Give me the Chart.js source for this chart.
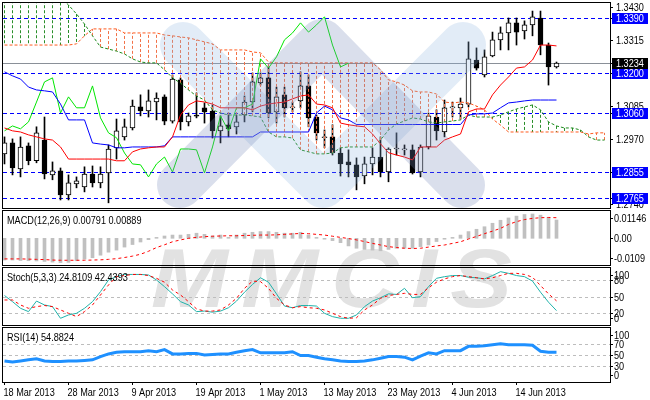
<!DOCTYPE html>
<html>
<head>
<meta charset="utf-8">
<title>EURUSD Daily - Ichimoku, MACD, Stoch, RSI</title>
<script src="https://cdn.jsdelivr.net/npm/chart.js@4.4.1/dist/chart.umd.min.js"></script>
<style>
  html, body { margin: 0; padding: 0; background: #fff; }
  #wrap { position: relative; width: 650px; height: 400px; overflow: hidden; }
  #wrap canvas { position: absolute; left: 0; z-index: 1; }
  #mark {
    position: absolute; left: 151px; top: 236px; z-index: 0;
    font: italic bold 84px/84px "Liberation Sans", Arial, sans-serif;
    letter-spacing: 12px; color: #e2e2e2; white-space: nowrap;
    transform: scaleX(1.1); transform-origin: 0 0;
  }
</style>
</head>
<body>
<div id="wrap">
  <div id="mark">MMCIS</div>
  <canvas id="mainChart" width="650" height="210" style="top:0"></canvas>
  <canvas id="macdChart" width="650" height="57" style="top:210px"></canvas>
  <canvas id="stochChart" width="650" height="60" style="top:267px"></canvas>
  <canvas id="rsiChart" width="650" height="73" style="top:327px"></canvas>
</div>
<script>
// Daily candles, 18 Mar 2013 .. 21 Jun 2013 (one entry per bar)
const opens = [
  1.2919, 1.2957, 1.2867, 1.2947, 1.2895, 1.2967, 1.2846, 1.2860, 1.2776, 1.2815,
  1.2804, 1.2849, 1.2818, 1.2853, 1.2940, 1.2978, 1.3009, 1.3082, 1.3068, 1.3099,
  1.3117, 1.3033, 1.3176, 1.3030, 1.3051, 1.3079, 1.3068, 1.2999, 1.3020, 1.3013,
  1.3054, 1.3099, 1.3165, 1.3183, 1.3065, 1.3124, 1.3079, 1.3103, 1.3155, 1.3047,
  1.2975, 1.2978, 1.2922, 1.2891, 1.2881, 1.2842, 1.2884, 1.2908, 1.2856, 1.2936,
  1.2933, 1.2933, 1.2856, 1.2943, 1.3047, 1.2995, 1.3079, 1.3079, 1.3092, 1.3245,
  1.3193, 1.3259, 1.3315, 1.3339, 1.3374, 1.3346, 1.3367, 1.3391, 1.3297, 1.3221
];
const highs = [
  1.2978, 1.2971, 1.2978, 1.2957, 1.3013, 1.3047, 1.2891, 1.2870, 1.2846, 1.2839,
  1.2874, 1.2877, 1.2874, 1.2950, 1.3040, 1.3040, 1.3106, 1.3124, 1.3141, 1.3131,
  1.3124, 1.3193, 1.3183, 1.3061, 1.3131, 1.3096, 1.3089, 1.3051, 1.3061, 1.3054,
  1.3120, 1.3200, 1.3200, 1.3221, 1.3151, 1.3151, 1.3099, 1.3204, 1.3193, 1.3054,
  1.3002, 1.3020, 1.2940, 1.2933, 1.2905, 1.2908, 1.2940, 1.2978, 1.2940, 1.2992,
  1.2950, 1.2950, 1.2950, 1.3061, 1.3072, 1.3106, 1.3099, 1.3113, 1.3308, 1.3287,
  1.3280, 1.3342, 1.3360, 1.3391, 1.3391, 1.3381, 1.3415, 1.3415, 1.3304, 1.3238
];
const lows = [
  1.2884, 1.2846, 1.2839, 1.2881, 1.2888, 1.2832, 1.2829, 1.2759, 1.2759, 1.2801,
  1.2787, 1.2804, 1.2801, 1.2749, 1.2901, 1.2967, 1.3002, 1.3051, 1.3047, 1.3037,
  1.3020, 1.3026, 1.3002, 1.3016, 1.3044, 1.3026, 1.2974, 1.2957, 1.2978, 1.2988,
  1.3030, 1.3065, 1.3158, 1.3044, 1.3026, 1.3047, 1.3065, 1.3079, 1.3013, 1.2967,
  1.2940, 1.2915, 1.2842, 1.2839, 1.2794, 1.2815, 1.2846, 1.2839, 1.2822, 1.2915,
  1.2915, 1.2849, 1.2839, 1.2936, 1.2967, 1.2978, 1.3047, 1.3040, 1.3082, 1.3210,
  1.3186, 1.3256, 1.3280, 1.3280, 1.3297, 1.3318, 1.3329, 1.3263, 1.3158, 1.3217
];
const closes = [
  1.2957, 1.2870, 1.2943, 1.2895, 1.2992, 1.2849, 1.2860, 1.2776, 1.2818, 1.2825,
  1.2849, 1.2818, 1.2849, 1.2936, 1.2999, 1.3013, 1.3085, 1.3068, 1.3103, 1.3113,
  1.3033, 1.3179, 1.3030, 1.3051, 1.3050, 1.3065, 1.2999, 1.3016, 1.3006, 1.3030,
  1.3099, 1.3169, 1.3183, 1.3061, 1.3117, 1.3079, 1.3079, 1.3155, 1.3044, 1.2992,
  1.2975, 1.2922, 1.2884, 1.2881, 1.2839, 1.2884, 1.2908, 1.2856, 1.2936, 1.2936,
  1.2933, 1.2853, 1.2943, 1.3051, 1.2999, 1.3079, 1.3079, 1.3092, 1.3249, 1.3217,
  1.3256, 1.3315, 1.3339, 1.3374, 1.3342, 1.3367, 1.3395, 1.3297, 1.3221, 1.3234
];

// Ichimoku lines
const tenkan = [
  1.3009, 1.2999, 1.2995, 1.2985, 1.2978, 1.2971, 1.2967, 1.2943, 1.2901, 1.2901,
  1.2901, 1.2901, 1.2901, 1.2901, 1.2895, 1.2895, 1.2926, 1.2936, 1.2940, 1.2943,
  1.2943, 1.2978, 1.3054, 1.3089, 1.3103, 1.3099, 1.3092, 1.3079, 1.3079, 1.3079,
  1.3079, 1.3072, 1.3085, 1.3092, 1.3096, 1.3099, 1.3110, 1.3120, 1.3124, 1.3092,
  1.3089, 1.3079, 1.3026, 1.3020, 1.3016, 1.3013, 1.2988, 1.2954, 1.2923, 1.2915,
  1.2908, 1.2898, 1.2943, 1.2943, 1.2943, 1.2967, 1.2978, 1.2988, 1.3065, 1.3075,
  1.3075, 1.3124, 1.3158, 1.3186, 1.3217, 1.3221, 1.3245, 1.3297, 1.3297, 1.3294
];
const kijun = [
  1.3204, 1.3190, 1.3179, 1.3151, 1.3141, 1.3138, 1.3134, 1.3092, 1.3037, 1.3037,
  1.3037, 1.2957, 1.2953, 1.2950, 1.2940, 1.2940, 1.2943, 1.2943, 1.2943, 1.2943,
  1.2947, 1.2978, 1.2978, 1.2978, 1.2978, 1.2978, 1.2978, 1.2978, 1.2978, 1.2978,
  1.2978, 1.2978, 1.2995, 1.2995, 1.2995, 1.2995, 1.2995, 1.2995, 1.2995, 1.3061,
  1.3085, 1.3072, 1.3044, 1.3037, 1.3021, 1.3021, 1.3021, 1.3021, 1.3021, 1.3021,
  1.3021, 1.3021, 1.3021, 1.3021, 1.3021, 1.3021, 1.3021, 1.3021, 1.3054, 1.3058,
  1.3058, 1.3061, 1.3079, 1.3096, 1.3099, 1.3103, 1.3106, 1.3106, 1.3106, 1.3106
];
// cloud spans run 6 bars past the last candle
const senkouA = [
  1.3470, 1.3470, 1.3470, 1.3470, 1.3470, 1.3470, 1.3470, 1.3462, 1.3436, 1.3405,
  1.3370, 1.3329, 1.3290, 1.3283, 1.3276, 1.3266, 1.3249, 1.3238, 1.3235, 1.3235,
  1.3211, 1.3183, 1.3165, 1.3141, 1.3120, 1.3106, 1.3072, 1.3061, 1.3054, 1.3054,
  1.3054, 1.3051, 1.3047, 1.2995, 1.2978, 1.2978, 1.2974, 1.2933, 1.2926, 1.2919,
  1.2919, 1.2922, 1.2940, 1.2943, 1.2943, 1.2943, 1.2943, 1.2967, 1.3002, 1.3023,
  1.3033, 1.3044, 1.3040, 1.3030, 1.3026, 1.3030, 1.3033, 1.3037, 1.3054, 1.3047,
  1.3047, 1.3047, 1.3054, 1.3065, 1.3075, 1.3082, 1.3089, 1.3072, 1.3030, 1.3016,
  1.3009, 1.3009, 1.3002, 1.2978, 1.2967, 1.2967
];
const senkouB = [
  1.3297, 1.3297, 1.3297, 1.3297, 1.3297, 1.3297, 1.3297, 1.3297, 1.3297, 1.3301,
  1.3329, 1.3353, 1.3353, 1.3353, 1.3353, 1.3339, 1.3339, 1.3339, 1.3339, 1.3339,
  1.3332, 1.3329, 1.3325, 1.3322, 1.3315, 1.3308, 1.3301, 1.3280, 1.3280, 1.3280,
  1.3280, 1.3273, 1.3270, 1.3238, 1.3235, 1.3235, 1.3235, 1.3235, 1.3235, 1.3235,
  1.3235, 1.3235, 1.3235, 1.3235, 1.3235, 1.3235, 1.3235, 1.3211, 1.3176, 1.3169,
  1.3158, 1.3138, 1.3134, 1.3134, 1.3127, 1.3099, 1.3096, 1.3099, 1.3096, 1.3085,
  1.3072, 1.3040, 1.3019, 1.2995, 1.2995, 1.2995, 1.2995, 1.2995, 1.2995, 1.2995,
  1.2995, 1.2995, 1.2995, 1.2988, 1.2992, 1.2992
];

// MACD(12,26,9)
const macdHist = [
  -0.0094, -0.0094, -0.0096, -0.0097, -0.0098, -0.0100, -0.0103, -0.0105, -0.0104, -0.0097,
  -0.0090, -0.0084, -0.0073, -0.0060, -0.0051, -0.0038, -0.0027, -0.0016, -0.0006, 0.0004,
  0.0010, 0.0014, 0.0014, 0.0017, 0.0022, 0.0017, 0.0010, 0.0014, 0.0004, 0.0014,
  0.0022, 0.0026, 0.0029, 0.0029, 0.0026, 0.0022, 0.0022, 0.0026, 0.0014, 0.0004,
  -0.0004, -0.0010, -0.0019, -0.0033, -0.0043, -0.0048, -0.0051, -0.0054, -0.0048, -0.0043,
  -0.0043, -0.0043, -0.0036, -0.0029, -0.0014, -0.0004, 0.0004, 0.0014, 0.0029, 0.0039,
  0.0050, 0.0065, 0.0078, 0.0088, 0.0096, 0.0103, 0.0105, 0.0100, 0.0091, 0.0079
];
const macdSignal = [
  -0.0089, -0.0089, -0.0089, -0.0090, -0.0091, -0.0092, -0.0094, -0.0095, -0.0095, -0.0095,
  -0.0095, -0.0094, -0.0093, -0.0091, -0.0088, -0.0083, -0.0077, -0.0069, -0.0056, -0.0040,
  -0.0028, -0.0015, -0.0007, 0.0000, 0.0004, 0.0007, 0.0009, 0.0010, 0.0011, 0.0011,
  0.0012, 0.0013, 0.0014, 0.0014, 0.0015, 0.0017, 0.0019, 0.0021, 0.0020, 0.0017,
  0.0014, 0.0009, 0.0004, -0.0001, -0.0007, -0.0014, -0.0022, -0.0029, -0.0036, -0.0040,
  -0.0043, -0.0044, -0.0043, -0.0038, -0.0033, -0.0029, -0.0022, -0.0015, -0.0003, 0.0008,
  0.0020, 0.0031, 0.0043, 0.0060, 0.0072, 0.0081, 0.0086, 0.0089, 0.0090, 0.0089
];

// Stochastic(5,3,3)
const stochMain = [
  52, 41, 29, 23, 42, 35, 32, 11, 17, 20,
  29, 41, 59, 80, 86, 90, 90, 90, 89, 80,
  68, 55, 41, 35, 23, 24, 22, 24, 30, 42,
  58, 72, 84, 76, 55, 33, 30, 34, 34, 33,
  20, 14, 11, 11, 17, 32, 42, 48, 55, 54,
  65, 48, 50, 68, 83, 86, 88, 88, 85, 84,
  82, 88, 95, 92, 88, 86, 78, 58, 40, 24.8
];
const stochSignal = [
  44, 44, 35, 29, 32, 34, 32, 26, 20, 14,
  23, 35, 53, 71, 86, 88, 90, 90, 88, 83,
  76, 62, 53, 41, 28, 24, 24, 26, 35, 47,
  65, 78, 77, 65, 47, 35, 30, 32, 30, 29,
  26, 20, 14, 11, 12, 26, 35, 47, 52, 54,
  56, 54, 54, 66, 76, 82, 86, 88, 86, 84,
  82, 84, 88, 92, 92, 90, 85, 70, 55, 42.4
];

// RSI(14)
const rsi = [
  39, 37, 39, 41, 43, 39, 38, 38, 39, 39,
  40, 41, 47, 52, 55, 56, 56, 56, 58, 56,
  60, 52, 52, 53, 53, 50, 51, 52, 52, 55,
  58, 60, 54, 54, 54, 54, 56, 49, 49, 46,
  43, 41, 39, 38, 38, 39, 41, 44, 47, 47,
  46, 41, 48, 54, 52, 58, 58, 58, 66, 66,
  67, 69, 71, 69, 69, 69, 68, 57, 55, 54.9
];

// axes / levels
const priceLevels = [1.3390, 1.3200, 1.3060, 1.2855, 1.2765];
const priceTicks = [1.3430, 1.3315, 1.3085, 1.2970, 1.2740];
const macdTicks = [0.01146, 0, -0.0109];
const macdTickLabels = ['0.01146', '0.00', '-0.0109'];
const stochTicks = [100, 80, 50, 20, 0];
const stochLevels = [80, 50, 20];
const rsiTicks = [100, 70, 50, 30, 0];
const rsiLevels = [70, 50, 30];
const dateBars = [0, 8, 16, 24, 32, 40, 48, 56, 64];
const dateLabels = ['18 Mar 2013', '28 Mar 2013', '9 Apr 2013', '19 Apr 2013', '1 May 2013',
  '13 May 2013', '23 May 2013', '4 Jun 2013', '14 Jun 2013'];

const fontFamily = '"Liberation Sans", Arial, sans-serif';
const labelFont = '11px ' + fontFamily;
const textSqueeze = 0.83;   // terminal font is narrower than Liberation Sans
Chart.defaults.font.family = fontFamily;
Chart.defaults.font.size = 11;

const xMin = -0.1875, xMax = 75.6875;   // 8 px per bar
const pts = (arr) => arr.map((v, i) => ({ x: i, y: v }));
const lastClose = closes[closes.length - 1];

function narrowText(ctx, text, x, y) {
  ctx.save();
  ctx.translate(x, y);
  ctx.scale(textSqueeze, 1);
  ctx.fillText(text, 0, 0);
  ctx.restore();
}

// frame, level lines, panel title, right-hand labels and dates
const panelPlugin = {
  id: 'panel',
  beforeDatasetsDraw(chart, args, o) {
    const { ctx, chartArea: a, scales: { y } } = chart;
    ctx.save();
    ctx.lineWidth = 1;
    (o.levels || []).forEach(l => {
      const py = Math.round(y.getPixelForValue(l.value)) + 0.5;
      ctx.strokeStyle = l.color;
      ctx.setLineDash(l.dash);
      ctx.beginPath(); ctx.moveTo(a.left, py); ctx.lineTo(a.right, py); ctx.stroke();
    });
    ctx.restore();
  },
  afterDraw(chart, args, o) {
    const { ctx, chartArea: a, scales: { x, y } } = chart;
    ctx.save();
    ctx.strokeStyle = '#000'; ctx.lineWidth = 1; ctx.setLineDash([]);
    ctx.strokeRect(a.left - 0.5, a.top - 0.5, a.width + 1, a.height + 1);
    ctx.font = labelFont;
    ctx.textBaseline = 'middle';
    ctx.textAlign = 'left';
    ctx.fillStyle = '#000';
    if (o.title) narrowText(ctx, o.title, a.left + 4, a.top + 9.5);
    (o.labels || []).forEach(l => {
      let py = y.getPixelForValue(l.value);
      py = Math.round(Math.min(Math.max(py, a.top + o.inset), a.bottom - o.inset));
      ctx.beginPath(); ctx.moveTo(a.right, py + 0.5); ctx.lineTo(a.right + 3, py + 0.5); ctx.stroke();
      if (l.bg) {
        ctx.fillStyle = l.bg;
        ctx.fillRect(a.right + 2, py - 5, 36, 11);
      }
      ctx.fillStyle = l.bg ? '#fff' : '#000';
      narrowText(ctx, l.text, a.right + o.textX, py + 0.5);
    });
    if (o.dates) {
      ctx.fillStyle = '#000';
      dateBars.forEach((b, i) => narrowText(ctx, dateLabels[i], x.getPixelForValue(b) - 1, a.bottom + 10.5));
    }
    ctx.restore();
  }
};

// kumo hatching: dashed verticals between the spans, drawn over the candles
const kumoPlugin = {
  id: 'kumo',
  afterDatasetDraw(chart, args) {
    if (chart.data.datasets[args.index].label !== 'bodies') return;
    const { ctx, chartArea: a, scales: { x, y } } = chart;
    ctx.save();
    ctx.beginPath(); ctx.rect(a.left, a.top, a.width, a.height); ctx.clip();
    ctx.lineWidth = 1;
    ctx.setLineDash([3, 2]);
    senkouA.forEach((va, i) => {
      const vb = senkouB[i];
      const px = Math.round(x.getPixelForValue(i) - 0.5) + 0.5;
      ctx.strokeStyle = va > vb ? '#2a8f2a' : '#f27248';
      ctx.beginPath();
      ctx.moveTo(px, y.getPixelForValue(va));
      ctx.lineTo(px, y.getPixelForValue(vb));
      ctx.stroke();
    });
    ctx.restore();
  }
};

// broker logo watermark over the price panel
const logoPlugin = {
  id: 'logo',
  afterDatasetsDraw(chart) {
    const { ctx, chartArea: a } = chart;
    ctx.save();
    ctx.beginPath(); ctx.rect(a.left, a.top, a.width, a.height); ctx.clip();
    ctx.lineCap = 'round'; ctx.lineJoin = 'round'; ctx.lineWidth = 46;
    const stroke = (path, color) => {
      ctx.strokeStyle = color;
      ctx.beginPath();
      path.forEach(([px, py], k) => (k ? ctx.lineTo(px, py) : ctx.moveTo(px, py)));
      ctx.stroke();
    };
    stroke([[183, 45], [323, 185], [463, 45]], 'rgba(140,180,225,0.25)');
    stroke([[180, 185], [322, 42], [462, 185]], 'rgba(120,135,185,0.27)');
    ctx.restore();
  }
};

const baseOptions = (padding, yMin, yMax) => ({
  responsive: false,
  animation: false,
  events: [],
  layout: { padding },
  scales: {
    x: { type: 'linear', min: xMin, max: xMax, offset: false, display: false },
    y: { type: 'linear', min: yMin, max: yMax, display: false }
  },
  plugins: { legend: { display: false }, tooltip: { enabled: false } }
});

// ---- price panel
const mainOptions = baseOptions({ left: 3, top: 3, right: 40, bottom: 2 }, 1.2731, 1.3443);
mainOptions.plugins.panel = {
  levels: [
    ...priceLevels.map(v => ({ value: v, color: '#0000ff', dash: [4, 3] })),
    { value: lastClose, color: '#8a9098', dash: [] }
  ],
  labels: [
    ...priceTicks.map(v => ({ value: v, text: v.toFixed(4) })),
    ...priceLevels.map(v => ({ value: v, text: v.toFixed(4), bg: '#0000ff' })),
    { value: lastClose, text: lastClose.toFixed(4), bg: '#000' }
  ],
  inset: 4,
  textX: 6
};

new Chart(document.getElementById('mainChart'), {
  type: 'bar',
  data: {
    datasets: [
      { type: 'line', label: 'Tenkan-sen', data: pts(tenkan), borderColor: '#ff0000', borderWidth: 1, pointRadius: 0, order: 1 },
      { type: 'line', label: 'Kijun-sen', data: pts(kijun), borderColor: '#0000ff', borderWidth: 1, pointRadius: 0, order: 1 },
      { type: 'line', label: 'Chikou Span', data: closes.slice(26).map((v, i) => ({ x: i, y: v })), borderColor: '#00e600', borderWidth: 1, pointRadius: 0, order: 1 },
      { type: 'line', label: 'Senkou Span A', data: pts(senkouA), borderColor: '#1e8c1e', borderWidth: 1, borderDash: [3, 2], pointRadius: 0, order: 2 },
      { type: 'line', label: 'Senkou Span B', data: pts(senkouB), borderColor: '#ff5a1e', borderWidth: 1, borderDash: [3, 2], pointRadius: 0, order: 2 },
      {
        label: 'bodies',
        data: opens.map((o, i) => ({ x: i, y: [o, closes[i]] })),
        backgroundColor: opens.map((o, i) => (closes[i] >= o ? '#fff' : '#000')),
        borderColor: '#000', borderWidth: 1, borderSkipped: false,
        barThickness: 5, minBarLength: 1, grouped: false, order: 5
      },
      {
        label: 'wicks',
        data: lows.map((l, i) => ({ x: i, y: [l, highs[i]] })),
        backgroundColor: '#000', barThickness: 1, grouped: false, order: 6
      }
    ]
  },
  options: mainOptions,
  plugins: [panelPlugin, kumoPlugin, logoPlugin]
});

// ---- MACD
const macdOptions = baseOptions({ left: 3, top: 1, right: 40, bottom: 2 }, -0.01154, 0.0118);
macdOptions.plugins.panel = {
  title: 'MACD(12,26,9) 0.00791 0.00889',
  labels: macdTicks.map((v, i) => ({ value: v, text: macdTickLabels[i] })),
  inset: 7,
  textX: 4
};
new Chart(document.getElementById('macdChart'), {
  type: 'bar',
  data: {
    datasets: [
      { type: 'line', label: 'Signal', data: pts(macdSignal), borderColor: '#ff0000', borderWidth: 1, borderDash: [3, 3], pointRadius: 0, order: 1 },
      { label: 'MACD', data: pts(macdHist), backgroundColor: '#c0c0c0', barThickness: 3, order: 2 }
    ]
  },
  options: macdOptions,
  plugins: [panelPlugin]
});

// ---- Stochastic
const stochOptions = baseOptions({ left: 3, top: 1, right: 40, bottom: 2 }, -1.1, 101.6);
stochOptions.plugins.panel = {
  title: 'Stoch(5,3,3) 24.8109 42.4393',
  levels: stochLevels.map(v => ({ value: v, color: '#bdbdbd', dash: [3, 3] })),
  labels: stochTicks.map(v => ({ value: v, text: String(v) })),
  inset: 7,
  textX: 4
};
new Chart(document.getElementById('stochChart'), {
  type: 'line',
  data: {
    datasets: [
      { label: 'Signal', data: pts(stochSignal), borderColor: '#ff0000', borderWidth: 1, borderDash: [3, 3], pointRadius: 0 },
      { label: 'Main', data: pts(stochMain), borderColor: '#20b2aa', borderWidth: 1, pointRadius: 0 }
    ]
  },
  options: stochOptions,
  plugins: [panelPlugin]
});

// ---- RSI, carries the date axis (tick marks from the scale, labels drawn narrow)
const rsiOptions = baseOptions({ left: 3, top: 1, right: 40, bottom: 0 }, 0, 100);
rsiOptions.scales.x = {
  type: 'linear', min: xMin, max: xMax, offset: false,
  afterBuildTicks: (axis) => { axis.ticks = dateBars.map(v => ({ value: v })); },
  afterFit: (axis) => { axis.height = 18; },
  grid: { drawOnChartArea: false, drawTicks: true, tickLength: 3, color: '#000' },
  border: { display: false },
  ticks: { display: false }
};
rsiOptions.plugins.panel = {
  title: 'RSI(14) 54.8824',
  levels: rsiLevels.map(v => ({ value: v, color: '#bdbdbd', dash: [3, 3] })),
  labels: rsiTicks.map(v => ({ value: v, text: String(v) })),
  inset: 7,
  textX: 4,
  dates: true
};
new Chart(document.getElementById('rsiChart'), {
  type: 'line',
  data: {
    datasets: [
      { label: 'RSI', data: pts(rsi), borderColor: '#1e90ff', borderWidth: 3, pointRadius: 0 }
    ]
  },
  options: rsiOptions,
  plugins: [panelPlugin]
});
</script>
</body>
</html>
